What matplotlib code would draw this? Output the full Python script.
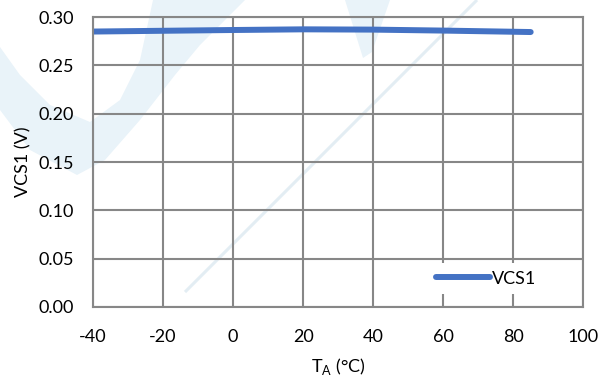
import matplotlib.pyplot as plt
from matplotlib.patches import Polygon

# data
temp = [-40, -20, 0, 20, 40, 60, 85]
vcs1 = [0.2850, 0.2858, 0.2866, 0.2873, 0.2870, 0.2860, 0.2845]

x_ticks = [-40, -20, 0, 20, 40, 60, 80, 100]
y_ticks = [0.00, 0.05, 0.10, 0.15, 0.20, 0.25, 0.30]

# faint background logo (figure pixels)
wm_bowl = [(0, 110), (30, 150), (77, 175), (105, 160), (140, 120), (175, 75), (200, 45), (245, 0),
           (153, 0), (140, 60), (120, 100), (90, 122), (50, 105), (20, 75), (0, 47)]
wm_wedge = [(345, 0), (390, 0), (372, 52), (363, 58)]
wm_line = [(185, 292), (477, 0)]

plt.rcParams['font.family'] = ['Lato', 'DejaVu Sans']
fs = 13

fig = plt.figure(figsize=(6, 3.79), dpi=100)

bg = fig.add_axes([0, 0, 1, 1], zorder=0)
bg.set_xlim(0, 600)
bg.set_ylim(379, 0)
bg.axis("off")
wm = "#e9f3f9"
bg.add_patch(Polygon(wm_bowl, closed=True, color=wm, lw=0))
bg.add_patch(Polygon(wm_wedge, closed=True, color=wm, lw=0))
bg.plot(*zip(*wm_line), color="#e3edf3", lw=2.2, solid_capstyle="butt")

ax = fig.add_axes([0.155, 0.19, 0.817, 0.765], zorder=1)
ax.set_facecolor("none")

ax.plot(temp, vcs1, color="#4472C4", linewidth=4.3, solid_capstyle="round", label="VCS1")

ax.set_xlim(-40, 100)
ax.set_ylim(0, 0.30)
ax.set_xticks(x_ticks)
ax.set_xticklabels([str(v) for v in x_ticks])
ax.set_yticks(y_ticks)
ax.set_yticklabels([f"{v:.2f}" for v in y_ticks])
ax.tick_params(length=0, labelsize=fs, colors="black")
ax.tick_params(axis="y", pad=14)
ax.tick_params(axis="x", pad=16)

ax.grid(True, color="#878787", linewidth=1.5)
ax.set_axisbelow(True)
for s in ax.spines.values():
    s.set_color("#878787")
    s.set_linewidth(1.5)

ax.set_xlabel("T$_\\mathregular{A}$ (°C)", fontsize=fs, labelpad=8)
ax.set_ylabel("VCS1 (V)", fontsize=fs, labelpad=5)

leg = ax.legend(loc="center left", bbox_to_anchor=(0.685, 0.098), frameon=True, fontsize=fs,
                handlelength=3.0, handletextpad=0.1, borderpad=0.4, borderaxespad=0)
leg.get_frame().set_edgecolor("none")
leg.get_frame().set_facecolor("white")
leg.get_frame().set_alpha(1)
leg.get_frame().set_boxstyle("square", pad=0)

fig.savefig("out.png", dpi=100)
